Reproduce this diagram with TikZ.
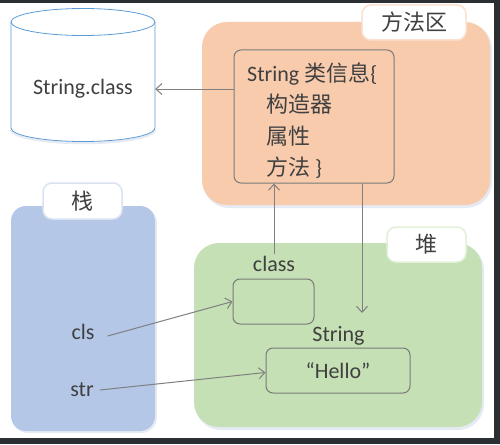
\documentclass[tikz,border=0pt]{standalone}
\usepackage{fontspec}
\setmainfont{Carlito}
\newfontfamily\cjk{Noto Sans CJK SC}
\usetikzlibrary{arrows.meta}
\definecolor{txt}{HTML}{404040}
\definecolor{framec}{HTML}{2B2F33}
\definecolor{linegray}{HTML}{808080}
\definecolor{boxgray}{HTML}{7A7A7A}
\definecolor{cylline}{HTML}{5B9BD5}
\definecolor{orangeC}{HTML}{F8CBAD}
\definecolor{blueC}{HTML}{B4C7E7}
\definecolor{greenC}{HTML}{C5E0B4}
\definecolor{orangeT}{HTML}{FBE2D0}
\definecolor{blueT}{HTML}{DAE3F3}
\definecolor{greenT}{HTML}{E2F0D9}
\definecolor{shadowC}{HTML}{E6EAF3}
\begin{document}
\begin{tikzpicture}[x=1pt,y=-1pt,
  every node/.style={text=txt, font=\fontsize{22}{31.5}\selectfont, inner sep=2pt},
  arr/.style={draw=linegray, line width=1pt, -{Straight Barb[length=6pt,width=11pt]}},
  tag/.style={draw=#1, fill=white, rounded corners=9pt, line width=1.5pt, minimum height=35pt, inner sep=0pt},
  box/.style={draw=boxgray, line width=1pt, rounded corners=7pt, inner sep=0pt},
  halo/.style={fill=shadowC}]
\fill[framec] (0,0) rectangle (500,444);
\fill[white] (0,3) rectangle (494,438);
\useasboundingbox (0,0) rectangle (500,444);
% cylinder
\draw[shadowC, line width=2.5pt] (11,129.5) arc[start angle=180, end angle=360, x radius=72pt, y radius=13.5pt];
\draw[cylline, line width=0.8pt, fill=white] (11,22) -- (11,128) arc[start angle=180, end angle=360, x radius=72pt, y radius=13.5pt] -- (155,22);
\draw[cylline, line width=0.8pt, fill=white] (83,22) ellipse[x radius=72pt, y radius=13.5pt];
\node[inner sep=0pt, minimum width=144pt, minimum height=10pt] (cyl) at (83,89) {String.class};
% method area
\fill[halo, rounded corners=26pt] (203,23) rectangle (492,208);
\fill[orangeC, rounded corners=25pt] (202,22) rectangle (490,205);
\node[tag=orangeT, minimum width=104pt] (mtag) at (414,22.5) {\cjk 方法区};
\node[box, minimum width=160pt, minimum height=133pt] (info) at (314,116.5) {};
\node[anchor=west, align=left, inner sep=0pt] (infotxt) at (247,120.5)
  {String {\cjk 类信息}\{\\\hspace*{19pt}{\cjk 构造器}\\\hspace*{19pt}{\cjk 属性}\\\hspace*{19pt}{\cjk 方法} \}};
\draw[arr] (info.west |- cyl.east) -- (cyl.east);
% stack
\fill[halo, rounded corners=16pt] (12,207) rectangle (157,433);
\fill[blueC, rounded corners=15pt] (11,206) rectangle (155,431);
\node[tag=blueT, minimum width=79pt, minimum height=36pt] (stag) at (82.5,201) {\cjk 栈};
% heap
\fill[halo, rounded corners=26pt] (195,244) rectangle (484,430);
\fill[greenC, rounded corners=25pt] (194,243) rectangle (482,427);
\node[tag=greenT, minimum width=79pt] (htag) at (426.5,244.5) {\cjk 堆};
\node (classlbl) at (274,264) {class};
\node[box, minimum width=81pt, minimum height=45pt] (clsbox) at (273.5,301.5) {};
\node (strlbl) at (338.5,336) {String};
\node[box, minimum width=144pt, minimum height=45pt] (hello) at (338,370.5) {“Hello”};
\node (cls) at (83,332) {cls};
\node (str) at (82,390) {str};
\coordinate (dtip) at (362,313);
% connectors
\draw[arr] ([xshift=11pt,yshift=-4pt]cls.east) -- (clsbox.west);
\draw[arr] ([xshift=4pt]str.east) -- ([yshift=-2pt]hello.west);
\draw[arr] (classlbl.north) -- (classlbl.north |- info.south);
\draw[arr] (info.south -| dtip) -- (dtip);
\end{tikzpicture}
\end{document}
